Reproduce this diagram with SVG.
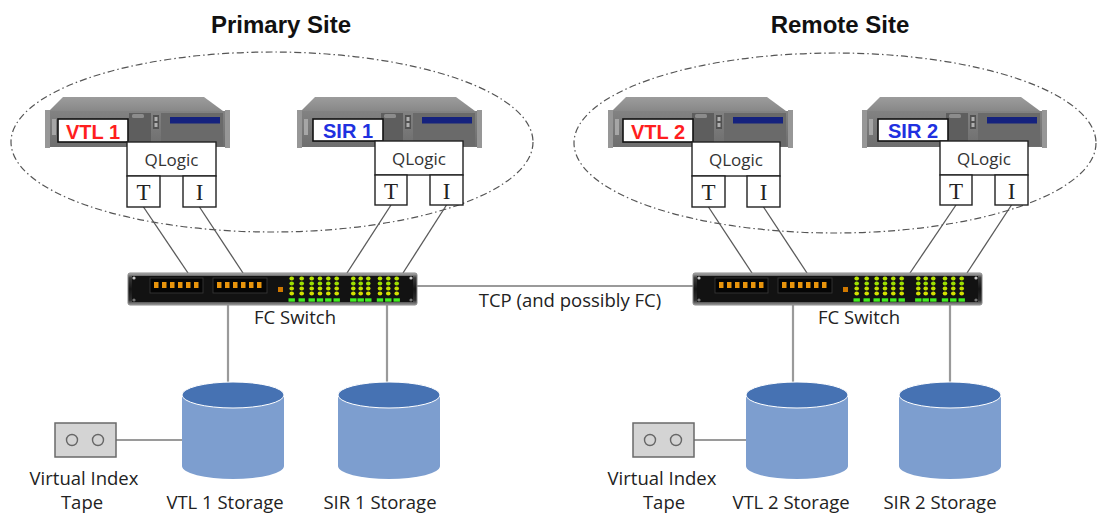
<svg xmlns="http://www.w3.org/2000/svg" xmlns:xlink="http://www.w3.org/1999/xlink" width="1102" height="515" viewBox="0 0 1102 515">
  <style>
    .title { font-family: "Liberation Sans", Arial, sans-serif; font-weight: bold; font-size: 24px; fill: #111; text-anchor: middle; }
    .site { fill: none; stroke: #555; stroke-width: 1.2; stroke-dasharray: 7 3 1.5 3; }
    .tag { fill: #fff; stroke: #111; stroke-width: 1.6; }
    .tagtext { font-family: "Liberation Sans", Arial, sans-serif; font-weight: bold; font-size: 20px; text-anchor: middle; }
    .vtl { fill: #ff1e1e; }
    .sir { fill: #2030e0; }
    .hba { fill: #fff; stroke: #222; stroke-width: 1.4; }
    .hbatext { font-family: "Open Sans", "Noto Sans", sans-serif; font-size: 17px; fill: #333; text-anchor: middle; }
    .port { font-family: "Liberation Serif", "Times New Roman", serif; font-size: 23px; fill: #222; text-anchor: middle; }
    .label { font-family: "Open Sans", "Noto Sans", sans-serif; font-size: 18.5px; fill: #222; text-anchor: middle; }
    .fibre { stroke: #5a5a5a; stroke-width: 1.3; fill: none; }
    .link { stroke: #9a9a9a; stroke-width: 2.2; fill: none; }
    .disk-top { fill: #4672b3; stroke: #fff; stroke-width: 1; }
    .disk-body { fill: #7d9ecf; }
    .tape { fill: #d4d4d4; stroke: #6a6a6a; stroke-width: 1.5; }
    .reel { fill: none; stroke: #666; stroke-width: 1.4; }
  </style>
  <defs>
    <linearGradient id="topFace" x1="0" y1="0" x2="0" y2="1">
      <stop offset="0" stop-color="#9c9c9c"/>
      <stop offset="1" stop-color="#888"/>
    </linearGradient>
    <linearGradient id="frontFace" x1="0" y1="0" x2="0" y2="1">
      <stop offset="0" stop-color="#828282"/>
      <stop offset="1" stop-color="#6e6e6e"/>
    </linearGradient>
    <linearGradient id="swFrame" x1="0" y1="0" x2="0" y2="1">
      <stop offset="0" stop-color="#b8b8b8"/>
      <stop offset="0.15" stop-color="#3a3a3a"/>
      <stop offset="0.5" stop-color="#151515"/>
      <stop offset="0.85" stop-color="#2e2e2e"/>
      <stop offset="1" stop-color="#9a9a9a"/>
    </linearGradient>

    <!-- 2U server chassis, origin at left edge / top of lid -->
    <g id="chassis">
      <polygon points="18,0 159,0 178,14 4,14" fill="url(#topFace)"/>
      <rect x="0" y="14" width="185" height="36" fill="url(#frontFace)"/>
      <rect x="0" y="13" width="5" height="38" fill="#979797"/>
      <rect x="180" y="13" width="5" height="38" fill="#979797"/>
      <rect x="7" y="22" width="4" height="16" fill="#a6a6a6"/>
      <rect x="84" y="16" width="22" height="34" fill="#5e5e5e"/>
      <rect x="87" y="17" width="12" height="4" rx="1.5" fill="#8c8c8c"/>
      <rect x="108" y="18" width="6" height="14" fill="#525252"/>
      <rect x="109.5" y="20" width="3" height="4" fill="#b0b0b0"/>
      <rect x="109.5" y="26" width="3" height="4" fill="#b0b0b0"/>
      <rect x="116" y="16" width="62" height="33" fill="#6a6a6a"/>
      <rect x="125" y="20" width="50" height="6.5" fill="#15227e"/>
    </g>

    <!-- one column of switch status LEDs -->
    <g id="ledcol">
      <ellipse cx="0" cy="5.5" rx="2.3" ry="2" fill="#b4e000"/>
      <ellipse cx="0" cy="10.5" rx="2.3" ry="2" fill="#9ce000"/>
      <ellipse cx="0" cy="15.5" rx="2.3" ry="2" fill="#c0e000"/>
      <ellipse cx="0" cy="20.5" rx="2.3" ry="2" fill="#d4e200"/>
      <rect x="-3.2" y="25.3" width="6.4" height="3.4" fill="#44ee22"/>
    </g>

    <!-- 1U fibre channel switch, 289 x 32 -->
    <g id="fcswitch">
      <rect x="0" y="0" width="289" height="32" rx="2" fill="url(#swFrame)" stroke="#8a8a8a" stroke-width="1"/>
      <rect x="4" y="3" width="281" height="26" fill="#121212"/>
      <circle cx="6" cy="5" r="1.6" fill="#c8c8c8"/>
      <circle cx="6" cy="27" r="1.6" fill="#777"/>
      <circle cx="283" cy="5" r="1.6" fill="#c8c8c8"/>
      <circle cx="283" cy="27" r="1.6" fill="#777"/>
      <!-- optical port banks -->
      <rect x="22" y="5" width="53" height="15" fill="#050505" stroke="#3a3a3a" stroke-width="0.8"/>
      <rect x="85" y="5" width="54" height="15" fill="#050505" stroke="#3a3a3a" stroke-width="0.8"/>
      <g fill="#e8940c">
        <rect x="26" y="9" width="4.5" height="6"/><rect x="34" y="9" width="4.5" height="6"/>
        <rect x="42" y="9" width="4.5" height="6"/><rect x="50" y="9" width="4.5" height="6"/>
        <rect x="58" y="9" width="4.5" height="6"/><rect x="66" y="9" width="4.5" height="6"/>
        <rect x="89" y="9" width="4.5" height="6"/><rect x="97" y="9" width="4.5" height="6"/>
        <rect x="105" y="9" width="4.5" height="6"/><rect x="113" y="9" width="4.5" height="6"/>
        <rect x="121" y="9" width="4.5" height="6"/><rect x="129" y="9" width="4.5" height="6"/>
        <rect x="150" y="14" width="5" height="5" fill="#d07800"/>
      </g>
      <!-- status LED matrix -->
      <use xlink:href="#ledcol" x="163.7"/>
      <use xlink:href="#ledcol" x="173.7"/>
      <use xlink:href="#ledcol" x="183.7"/>
      <use xlink:href="#ledcol" x="192"/>
      <use xlink:href="#ledcol" x="200.3"/>
      <use xlink:href="#ledcol" x="208.7"/>
      <use xlink:href="#ledcol" x="225.3"/>
      <use xlink:href="#ledcol" x="232.7"/>
      <use xlink:href="#ledcol" x="240.3"/>
      <use xlink:href="#ledcol" x="252"/>
      <use xlink:href="#ledcol" x="260.3"/>
      <use xlink:href="#ledcol" x="268.7"/>
    </g>
  </defs>

  <rect width="1102" height="515" fill="#fff"/>

  <!-- site titles and boundaries -->
  <g id="primary-site">
    <text class="title" x="281" y="33">Primary Site</text>
    <ellipse class="site" cx="272" cy="142" rx="261" ry="90"/>
  </g>
  <g id="remote-site">
    <text class="title" x="840" y="33">Remote Site</text>
    <ellipse class="site" cx="835" cy="143" rx="261" ry="90"/>
  </g>

  <!-- connectors -->
  <g id="connectors">
    <line class="fibre" x1="143.5" y1="207" x2="188" y2="273"/>
    <line class="fibre" x1="199.5" y1="207" x2="243" y2="273"/>
    <line class="fibre" x1="391" y1="205" x2="347" y2="273"/>
    <line class="fibre" x1="446.5" y1="205" x2="403" y2="273"/>
    <line class="fibre" x1="708.5" y1="207" x2="752" y2="273"/>
    <line class="fibre" x1="763.5" y1="207" x2="807" y2="273"/>
    <line class="fibre" x1="956" y1="205" x2="910" y2="273"/>
    <line class="fibre" x1="1011.5" y1="205" x2="967" y2="273"/>
    <line class="link" x1="417" y1="286" x2="693" y2="286"/>
    <line class="link" x1="228" y1="305" x2="228" y2="383"/>
    <line class="link" x1="387" y1="305" x2="387" y2="383"/>
    <line class="link" x1="793" y1="305" x2="793" y2="383"/>
    <line class="link" x1="950" y1="305" x2="950" y2="383"/>
    <line class="link" x1="116" y1="440" x2="182" y2="440"/>
    <line class="link" x1="694" y1="440" x2="746" y2="440"/>
    <text class="label" x="570" y="307">TCP (and possibly FC)</text>
  </g>

  <!-- servers -->
  <g id="vtl1">
    <use xlink:href="#chassis" x="45" y="97"/>
    <rect class="tag" x="58" y="119" width="70" height="23"/>
    <text class="tagtext vtl" x="93" y="138.5">VTL 1</text>
    <rect class="hba" x="127" y="142" width="89" height="34"/>
    <text class="hbatext" x="171.5" y="166">QLogic</text>
    <rect class="hba" x="127" y="176" width="33" height="31"/>
    <text class="port" x="143.5" y="200">T</text>
    <rect class="hba" x="183" y="176" width="33" height="31"/>
    <text class="port" x="199.5" y="200">I</text>
  </g>
  <g id="sir1">
    <use xlink:href="#chassis" x="297" y="97"/>
    <rect class="tag" x="313" y="119" width="70" height="22"/>
    <text class="tagtext sir" x="348" y="138">SIR 1</text>
    <rect class="hba" x="375" y="141" width="88" height="34"/>
    <text class="hbatext" x="419" y="165">QLogic</text>
    <rect class="hba" x="375" y="175" width="32" height="30"/>
    <text class="port" x="391" y="199">T</text>
    <rect class="hba" x="430" y="175" width="33" height="30"/>
    <text class="port" x="446.5" y="199">I</text>
  </g>
  <g id="vtl2">
    <use xlink:href="#chassis" x="608" y="97"/>
    <rect class="tag" x="623" y="119" width="70" height="23"/>
    <text class="tagtext vtl" x="658" y="138.5">VTL 2</text>
    <rect class="hba" x="692" y="142" width="88" height="34"/>
    <text class="hbatext" x="736" y="166">QLogic</text>
    <rect class="hba" x="692" y="176" width="33" height="31"/>
    <text class="port" x="708.5" y="200">T</text>
    <rect class="hba" x="747" y="176" width="33" height="31"/>
    <text class="port" x="763.5" y="200">I</text>
  </g>
  <g id="sir2">
    <use xlink:href="#chassis" x="862" y="97"/>
    <rect class="tag" x="878" y="119" width="70" height="22"/>
    <text class="tagtext sir" x="913" y="138">SIR 2</text>
    <rect class="hba" x="940" y="141" width="88" height="34"/>
    <text class="hbatext" x="984" y="165">QLogic</text>
    <rect class="hba" x="940" y="175" width="32" height="30"/>
    <text class="port" x="956" y="199">T</text>
    <rect class="hba" x="995" y="175" width="33" height="30"/>
    <text class="port" x="1011.5" y="199">I</text>
  </g>

  <!-- fibre channel switches -->
  <g id="switch1">
    <use xlink:href="#fcswitch" x="128" y="273"/>
    <text class="label" x="295" y="324">FC Switch</text>
  </g>
  <g id="switch2">
    <use xlink:href="#fcswitch" x="693" y="273"/>
    <text class="label" x="859" y="324">FC Switch</text>
  </g>

  <!-- storage -->
  <g id="vtl1-storage">
    <path class="disk-body" d="M182,395 V466 A51,13 0 0 0 284,466 V395 Z"/>
    <ellipse class="disk-top" cx="233" cy="395" rx="51" ry="13"/>
    <text class="label" x="225" y="509">VTL 1 Storage</text>
  </g>
  <g id="sir1-storage">
    <path class="disk-body" d="M338,395 V466 A51,13 0 0 0 440,466 V395 Z"/>
    <ellipse class="disk-top" cx="389" cy="395" rx="51" ry="13"/>
    <text class="label" x="380" y="509">SIR 1 Storage</text>
  </g>
  <g id="vtl2-storage">
    <path class="disk-body" d="M746,395 V466 A51,13 0 0 0 848,466 V395 Z"/>
    <ellipse class="disk-top" cx="797" cy="395" rx="51" ry="13"/>
    <text class="label" x="791" y="509">VTL 2 Storage</text>
  </g>
  <g id="sir2-storage">
    <path class="disk-body" d="M899,395 V466 A51,13 0 0 0 1001,466 V395 Z"/>
    <ellipse class="disk-top" cx="950" cy="395" rx="51" ry="13"/>
    <text class="label" x="940" y="509">SIR 2 Storage</text>
  </g>

  <!-- virtual index tapes -->
  <g id="tape1">
    <rect class="tape" x="55" y="423" width="61" height="34"/>
    <circle class="reel" cx="72" cy="440" r="5.5"/>
    <circle class="reel" cx="98" cy="440" r="5.5"/>
    <text class="label" x="84" y="485">Virtual Index</text>
    <text class="label" x="82" y="509">Tape</text>
  </g>
  <g id="tape2">
    <rect class="tape" x="633" y="423" width="61" height="34"/>
    <circle class="reel" cx="650" cy="440" r="5.5"/>
    <circle class="reel" cx="676" cy="440" r="5.5"/>
    <text class="label" x="662" y="485">Virtual Index</text>
    <text class="label" x="664" y="509">Tape</text>
  </g>
</svg>
